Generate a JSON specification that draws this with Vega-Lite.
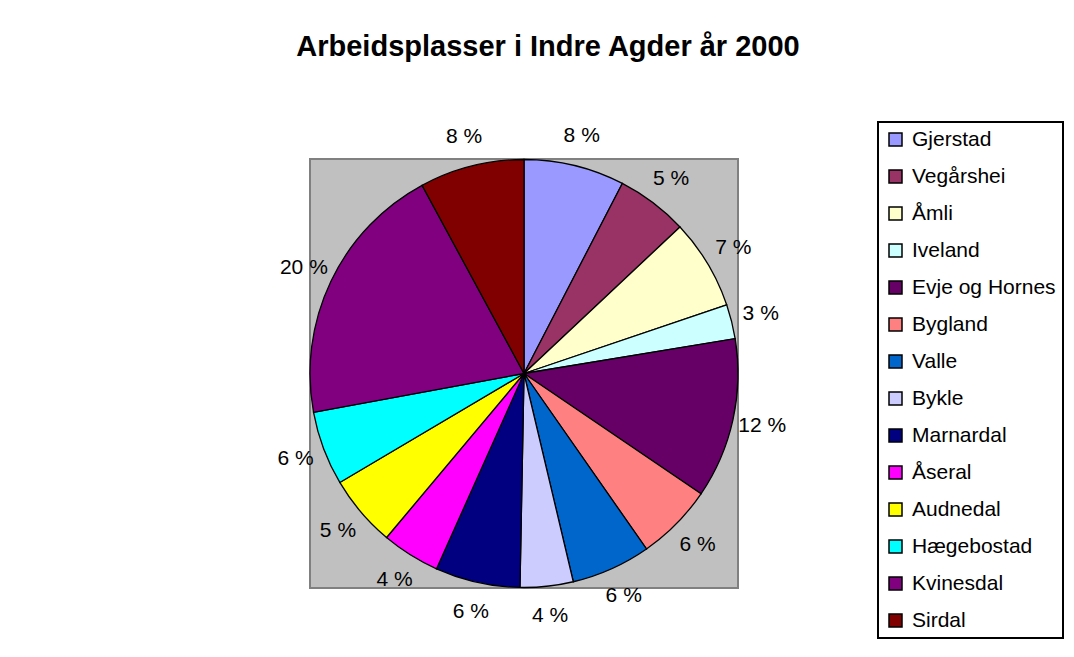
{
  "$schema": "https://vega.github.io/schema/vega-lite/v6.json",
  "width": 428,
  "height": 429,
  "autosize": {"type": "none"},
  "padding": {"left": 310, "top": 159, "right": 336, "bottom": 69},
  "background": "white",
  "view": {"fill": "#C0C0C0", "stroke": "#808080", "strokeWidth": 2},
  "title": {
    "text": "Arbeidsplasser i Indre Agder år 2000",
    "font": "Liberation Sans",
    "fontSize": 29,
    "fontWeight": "bold",
    "color": "black",
    "anchor": "middle",
    "frame": "group",
    "baseline": "alphabetic",
    "offset": 36,
    "dx": 24
  },
  "data": {
    "values": [
      {"nr": 1, "kommune": "Gjerstad", "andel": 7.6},
      {"nr": 2, "kommune": "Vegårshei", "andel": 5.4},
      {"nr": 3, "kommune": "Åmli", "andel": 6.8},
      {"nr": 4, "kommune": "Iveland", "andel": 2.6},
      {"nr": 5, "kommune": "Evje og Hornes", "andel": 12.1},
      {"nr": 6, "kommune": "Bygland", "andel": 5.8},
      {"nr": 7, "kommune": "Valle", "andel": 6.0},
      {"nr": 8, "kommune": "Bykle", "andel": 4.0},
      {"nr": 9, "kommune": "Marnardal", "andel": 6.4},
      {"nr": 10, "kommune": "Åseral", "andel": 4.4},
      {"nr": 11, "kommune": "Audnedal", "andel": 5.4},
      {"nr": 12, "kommune": "Hægebostad", "andel": 5.6},
      {"nr": 13, "kommune": "Kvinesdal", "andel": 20.0},
      {"nr": 14, "kommune": "Sirdal", "andel": 7.9}
    ]
  },
  "transform": [
    {"calculate": "format(datum.andel, '.0f') + ' %'", "as": "etikett"}
  ],
  "encoding": {
    "theta": {"field": "andel", "type": "quantitative", "stack": true},
    "order": {"field": "nr", "type": "quantitative"}
  },
  "layer": [
    {
      "mark": {"type": "arc", "outerRadius": 214, "stroke": "black", "strokeWidth": 1.3},
      "encoding": {
        "color": {
          "field": "kommune",
          "type": "nominal",
          "sort": null,
          "scale": {
            "domain": ["Gjerstad", "Vegårshei", "Åmli", "Iveland", "Evje og Hornes", "Bygland", "Valle", "Bykle", "Marnardal", "Åseral", "Audnedal", "Hægebostad", "Kvinesdal", "Sirdal"],
            "range": ["#9999FF", "#993366", "#FFFFCC", "#CCFFFF", "#660066", "#FF8080", "#0066CC", "#CCCCFF", "#000080", "#FF00FF", "#FFFF00", "#00FFFF", "#800080", "#800000"]
          },
          "legend": {
            "title": null,
            "orient": "none",
            "legendX": 568,
            "legendY": -37,
            "padding": 7,
            "strokeColor": "black",
            "fillColor": "white",
            "symbolType": "square",
            "symbolSize": 169,
            "symbolStrokeColor": "black",
            "symbolStrokeWidth": 1.5,
            "labelFont": "Liberation Sans",
            "labelFontSize": 21,
            "labelColor": "black",
            "labelOffset": 6,
            "labelLimit": 300,
            "rowPadding": 15,
            "encode": {"legend": {"update": {"strokeWidth": {"value": 2}}}}
          }
        }
      }
    },
    {
      "mark": {"type": "text", "radius": 244, "font": "Liberation Sans", "fontSize": 21, "color": "black"},
      "encoding": {
        "text": {"field": "etikett", "type": "nominal"}
      }
    }
  ]
}
